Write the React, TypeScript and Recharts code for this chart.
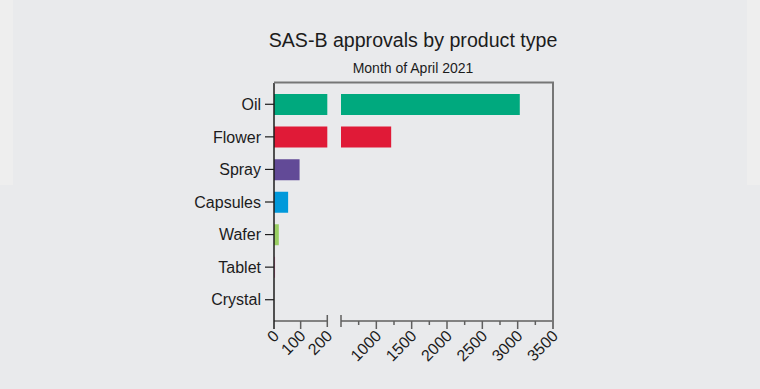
import React from 'react';
import { BarChart, Bar, XAxis, YAxis, Cell } from 'recharts';

// SAS-B approvals, April 2021
const categories = ['Oil', 'Flower', 'Spray', 'Capsules', 'Wafer', 'Tablet', 'Crystal'];
const approvals = [3030, 1210, 96, 53, 18, 4, 0];
const barColors = ['#00A97E', '#E01A37', '#624A97', '#0099DB', '#9ACF63', '#E77BB0', '#888888'];

// broken axis: low segment 0-200, high segment 500-3500
const lowDomain = [0, 200];
const lowTicks = [0, 100, 200];
const highDomain = [500, 3500];
const highTicks = [500, 750, 1000, 1250, 1500, 1750, 2000, 2250, 2500, 2750, 3000, 3250, 3500];
const highLabels = [1000, 1500, 2000, 2500, 3000, 3500];
const breakValues = [200, 500];

const data = categories.map((name, i) => ({ name, value: approvals[i] }));

const FONT = '"Liberation Sans", Arial, Helvetica, sans-serif';
const TEXT = '#1c1c1c';
const AXIS = '#5f5f5f';

const XTick = (props: any) => {
  const { x, y, payload, labels } = props;
  const v = payload.value;
  const isBreak = breakValues.includes(v);
  const isMajor = labels.includes(v);
  let line;
  if (isBreak) {
    line = <line x1={x} x2={x} y1={y - 6} y2={y + 6} stroke={AXIS} strokeWidth={1.5} />;
  } else {
    line = (
      <line
        x1={x}
        x2={x}
        y1={y}
        y2={y + (isMajor ? 8 : 4)}
        stroke={v === 0 ? TEXT : AXIS}
        strokeWidth={1.5}
      />
    );
  }
  const tx = x + 6;
  const ty = y + 16;
  return (
    <g>
      {line}
      {isMajor && (
        <text
          x={tx}
          y={ty}
          transform={`rotate(-45 ${tx} ${ty})`}
          textAnchor="end"
          fontSize={16}
          fontFamily={FONT}
          fill={TEXT}
        >
          {v}
        </text>
      )}
    </g>
  );
};

const chartMargin = { top: 83, bottom: 8 };

const App: React.FC = () => {
  return (
    <div
      style={{
        position: 'absolute',
        left: 0,
        top: 0,
        width: 760,
        height: 389,
        background: '#E9EAEC',
        overflow: 'hidden',
      }}
    >
      <div style={{ position: 'absolute', left: 0, top: 0, width: 13, height: 185, background: '#EEEEEE' }} />
      <div style={{ position: 'absolute', left: 747, top: 0, width: 13, height: 185, background: '#EEEEEE' }} />

      {/* low segment with category labels */}
      <div style={{ position: 'absolute', left: 0, top: 0 }}>
        <BarChart
          width={760}
          height={389}
          data={data}
          layout="vertical"
          margin={{ ...chartMargin, left: 0, right: 432.7 }}
        >
          <XAxis
            type="number"
            domain={lowDomain}
            ticks={lowTicks}
            interval={0}
            allowDataOverflow
            height={60}
            axisLine={{ stroke: AXIS, strokeWidth: 1.5 }}
            tickLine={false}
            tickSize={0}
            tickMargin={0}
            tick={<XTick labels={lowTicks} />}
          />
          <YAxis
            type="category"
            dataKey="name"
            width={274}
            padding={{ top: 5, bottom: 5 }}
            axisLine={{ stroke: TEXT, strokeWidth: 1.5 }}
            tickLine={{ stroke: TEXT, strokeWidth: 1.2 }}
            tickSize={9}
            tickMargin={4}
            tick={{ fontSize: 16, fill: TEXT, fontFamily: FONT }}
          />
          <Bar dataKey="value" barSize={21} isAnimationActive={false}>
            {data.map((d, i) => (
              <Cell key={d.name} fill={barColors[i]} />
            ))}
          </Bar>
        </BarChart>
      </div>

      {/* high segment */}
      <div style={{ position: 'absolute', left: 0, top: 0 }}>
        <BarChart
          width={760}
          height={389}
          data={data}
          layout="vertical"
          margin={{ ...chartMargin, left: 341, right: 207 }}
        >
          <XAxis
            type="number"
            domain={highDomain}
            ticks={highTicks}
            interval={0}
            allowDataOverflow
            height={60}
            axisLine={{ stroke: AXIS, strokeWidth: 1.5 }}
            tickLine={false}
            tickSize={0}
            tickMargin={0}
            tick={<XTick labels={highLabels} />}
          />
          <YAxis type="category" dataKey="name" hide padding={{ top: 5, bottom: 5 }} />
          <Bar dataKey="value" barSize={21} isAnimationActive={false}>
            {data.map((d, i) => (
              <Cell key={d.name} fill={barColors[i]} />
            ))}
          </Bar>
        </BarChart>
      </div>

      {/* frame + titles */}
      <svg width={760} height={389} style={{ position: 'absolute', left: 0, top: 0, pointerEvents: 'none' }}>
        <polyline points="274,82.5 553,82.5 553,329" fill="none" stroke="#767676" strokeWidth={2} />
        <text x={413} y={47} textAnchor="middle" fontSize={19.6} fontFamily={FONT} fill={TEXT}>
          SAS-B approvals by product type
        </text>
        <text x={413} y={72.5} textAnchor="middle" fontSize={14} fontFamily={FONT} fill={TEXT}>
          Month of April 2021
        </text>
      </svg>
    </div>
  );
};

export default App;
